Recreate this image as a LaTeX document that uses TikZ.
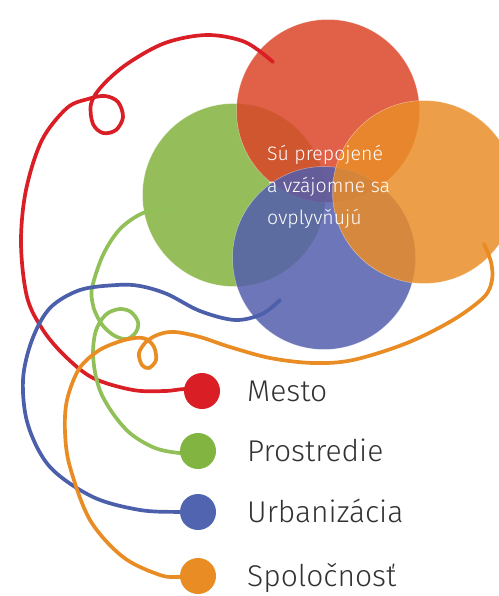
\documentclass[tikz,border=0pt]{standalone}
\usepackage{fontspec}
\IfFontExistsTF{Fira Sans Light}{\setmainfont{Fira Sans Light}}{\setmainfont{Fira Sans}}
\definecolor{cred}{RGB}{219,68,40}
\definecolor{cgreen}{RGB}{131,178,61}
\definecolor{corange}{RGB}{233,141,40}
\definecolor{cblue}{RGB}{82,94,173}
\definecolor{lred}{RGB}{218,30,38}
\definecolor{lgreen}{RGB}{145,192,88}
\definecolor{lblue}{RGB}{75,95,170}
\definecolor{lorange}{RGB}{232,140,35}
\definecolor{dgreen}{RGB}{130,180,65}
\definecolor{dblue}{RGB}{80,100,175}
\definecolor{labelgray}{RGB}{50,50,50}
\begin{document}
\begin{tikzpicture}[x=1pt,y=-1pt,
  bigcirc/.style={circle, minimum size=183pt, inner sep=0pt, outer sep=0pt,
    fill opacity=0.85, draw=white, draw opacity=0.45, line width=0.5pt},
  curve/.style={line width=3.7pt, line cap=round, line join=round},
  dot/.style={circle, minimum size=36pt, inner sep=0pt},
  lab/.style={anchor=base west, text=labelgray, font=\fontsize{30}{34}\selectfont, inner sep=0pt},
  center text/.style={text=white, font=\fontsize{19.5}{32}\selectfont, align=left, anchor=north west, inner sep=0pt}
]
\useasboundingbox (0,0) rectangle (498,596);
% circles
\node[bigcirc, fill=cgreen] (cg) at (234,195) {};
\node[bigcirc, fill=cred] (cr) at (328,111) {};
\node[bigcirc, fill=cblue] (cb) at (324,258) {};
\node[bigcirc, fill=corange] (co) at (424,192) {};
% legend dots
\coordinate (md) at (202,391);
\coordinate (pd) at (198,451);
\coordinate (ud) at (198,512);
\coordinate (sd) at (198,576);
% curve starts
\coordinate (rs) at (273,62);
\coordinate (gs) at (168,208);
\coordinate (bs) at (280,300);
\coordinate (os) at (484,244);
% curves
\draw[curve, lred] plot[smooth, tension=0.55] coordinates {(rs) (245,42) (207,35) (165,43) (127,64) (102,86) (91,104) (93,124) (103,133) (116,130) (123,117) (118,102) (105,96) (88,99) (67,108) (42,140) (26,190) (21,243) (27,297) (43,330) (65,356) (93,378) (133,390) (165,391) (185,389) (md)};
\draw[curve, lgreen] plot[smooth, tension=0.55] coordinates {(gs) (143,213) (120,229) (103,255) (92,288) (93,305) (97,316) (104,327) (115,336) (127,339) (136,332) (138,322) (131,312) (120,309) (108,313) (100,322) (95,334) (93,352) (95,372) (101,393) (114,415) (131,434) (155,448) (180,453) (pd)};
\draw[curve, lblue] plot[smooth, tension=0.55] coordinates {(bs) (262,314) (235,320) (200,311) (167,294) (140,286) (117,285) (80,290) (50,308) (32,340) (23,380) (28,425) (50,467) (93,497) (140,510) (180,512) (ud)};
\draw[curve, lorange] plot[smooth, tension=0.55] coordinates {(os) (491,262) (492,280) (484,297) (453,320) (407,343) (353,360) (313,363) (270,358) (230,347) (200,337) (175,332) (160,334) (147,341) (139,353) (142,365) (149,368) (156,360) (154,347) (146,339) (135,338) (118,342) (98,351) (79,369) (67,400) (65,432) (70,467) (90,520) (123,557) (160,575) (180,577) (sd)};
% dots
\node[dot, fill=lred] (mdot) at (md) {};
\node[dot, fill=dgreen] (pdot) at (pd) {};
\node[dot, fill=dblue] (udot) at (ud) {};
\node[dot, fill=lorange] (sdot) at (sd) {};
% labels
\node[lab] (ml) at (247,401) {Mesto};
\node[lab] (pl) at (247,461) {Prostredie};
\node[lab] (ul) at (247,522) {Urbanizácia};
\node[lab] (sl) at (247,586) {Spoločnosť};
% center text
\node[center text] (ct) at (267,145) {Sú prepojené\\a vzájomne sa\\ovplyvňujú};
\end{tikzpicture}
\end{document}
